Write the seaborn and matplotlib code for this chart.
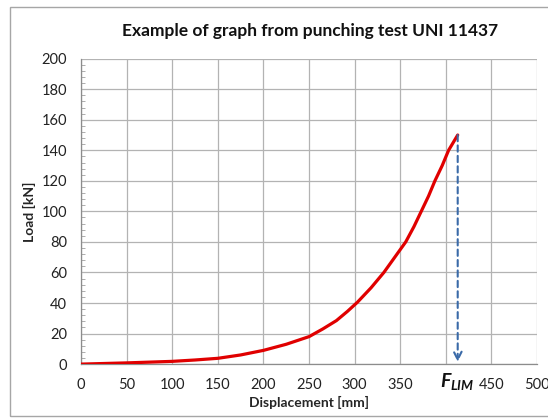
import pandas as pd
import seaborn as sns
import matplotlib.pyplot as plt
from matplotlib.patches import Rectangle
from matplotlib.ticker import MultipleLocator

# values
displacement = [0, 50, 100, 125, 150, 175, 200, 225, 250, 265, 280, 292, 303, 318, 332, 344,
                356, 365, 373, 381, 388, 396, 403, 408, 413]
load = [0, 0.8, 1.8, 2.7, 3.8, 6, 9, 13, 18, 23, 28.5, 34.5, 40.5, 50, 60, 70,
        80, 90, 100, 110, 120, 130, 140, 145, 150]
x_ticks = [0, 50, 100, 150, 200, 250, 300, 350, 400, 450, 500]
x_tick_labels = ['0', '50', '100', '150', '200', '250', '300', '350', '', '450', '500']
y_ticks = [0, 20, 40, 60, 80, 100, 120, 140, 160, 180, 200]
f_lim_x = 413
f_lim_load = 150

data = pd.DataFrame({'Displacement': displacement, 'Load': load})

sns.set_style('white')
plt.rcParams['font.family'] = ['Lato', 'DejaVu Sans']
plt.rcParams['mathtext.fontset'] = 'custom'
plt.rcParams['mathtext.it'] = 'Lato:bold:italic'
plt.rcParams['mathtext.rm'] = 'Lato:bold'

fig = plt.figure(figsize=(5.48, 4.19), dpi=100)
ax = fig.add_axes([0.148, 0.131, 0.832, 0.729])

# outer frame like the spreadsheet chart area
fig.patches.append(Rectangle((10 / 548, 3 / 419), 1.0, 409 / 419, transform=fig.transFigure,
                             fill=False, edgecolor='#a6a6a6', linewidth=1.0))

sns.lineplot(data=data, x='Displacement', y='Load', color='#e00000', linewidth=2.3, ax=ax, zorder=3)

# dashed arrow down to F_LIM
ax.annotate('', xy=(f_lim_x, 1.5), xytext=(f_lim_x, f_lim_load),
            arrowprops=dict(arrowstyle='->', color='#3a6aa8', linestyle=(0, (3, 2)),
                            linewidth=1.5, mutation_scale=14, shrinkA=0, shrinkB=0), zorder=4)

ax.set_xlim(0, 500)
ax.set_ylim(0, 200)
ax.set_xticks(x_ticks)
ax.set_xticklabels(x_tick_labels)
ax.set_yticks(y_ticks)
ax.yaxis.set_minor_locator(MultipleLocator(4))
ax.grid(True, which='major', color='#b3b3b3', linewidth=0.9)
for side in ['top', 'right']:
    ax.spines[side].set_visible(False)
for side in ['left', 'bottom']:
    ax.spines[side].set_color('#8c8c8c')
    ax.spines[side].set_linewidth(0.9)
ax.tick_params(axis='both', which='major', direction='out', length=4, width=0.8,
               color='#8c8c8c', labelsize=10.5, labelcolor='#222222', pad=6)
ax.tick_params(axis='y', which='minor', left=True, direction='in', length=3, width=0.6, color='#a0a0a0')

ax.text(f_lim_x, -4.5, r'$F_{LIM}$', fontsize=14, ha='center', va='top', color='#111111')

ax.set_xlabel('Displacement [mm]', fontsize=10, fontweight='bold', labelpad=3)
ax.set_ylabel('Load [kN]', fontsize=10, fontweight='bold', labelpad=4)
fig.text(0.565, 0.925, 'Example of graph from punching test UNI 11437', ha='center', va='center',
         fontsize=12.5, fontweight='bold', color='#111111')

fig.savefig('out.png', dpi=100)
